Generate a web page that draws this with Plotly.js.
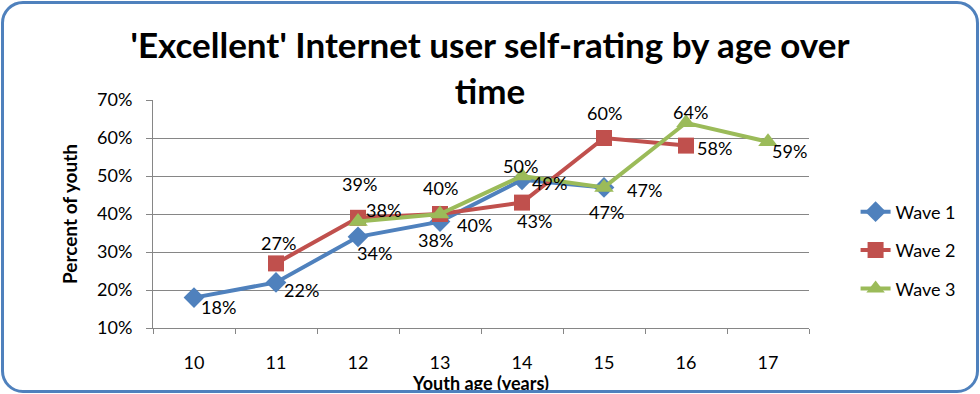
<!DOCTYPE html>
<html>
<head>
<meta charset="utf-8">
<script src="https://cdn.plot.ly/plotly-3.0.1.min.js"></script>
<style>
html,body{margin:0;padding:0;background:#fff;}
#wrap{position:relative;width:980px;height:394px;overflow:hidden;}
#chart{position:absolute;left:0;top:0;width:980px;height:394px;}
#frame{position:absolute;left:1px;top:1px;width:978px;height:392px;box-sizing:border-box;border:3px solid #4F81BD;border-radius:22px;pointer-events:none;}
</style>
</head>
<body>
<div id="wrap"><div id="chart"></div><div id="frame"></div></div>
<script>
const ages = ['10','11','12','13','14','15','16','17'];
const wave1Ages = ['10','11','12','13','14','15'];
const wave1 = [18, 22, 34, 38, 49, 47];
const wave2Ages = ['11','12','13','14','15','16'];
const wave2 = [27, 39, 40, 43, 60, 58];
const wave3Ages = ['12','13','14','15','16','17'];
const wave3 = [38, 40, 50, 47, 64, 59];
const yTicks = [10, 20, 30, 40, 50, 60, 70];
const seriesNames = ['Wave 1', 'Wave 2', 'Wave 3'];

// label placement offsets (pixels, label centre relative to point; style only)
const wave1LabelShift = [[24, 9], [25, 8], [16, 16], [-5, 18], [27, 3], [40, 3]];
const wave2LabelShift = [[2, -20], [1, -34], [0, -26], [12, 18], [0, -25], [28, 2]];
const wave3LabelShift = [[25, -12], [34, 11], [-2, -10], [2, 25], [4, -11], [21, 9]];

const FONT = 'Lato, "Open Sans", sans-serif';
const lblFont = {family: FONT, size: 18, color: '#000'};

const traces = [
  {x: wave1Ages, y: wave1, name: seriesNames[0], type: 'scatter', mode: 'lines+markers',
   line: {color: '#4F81BD', width: 4}, marker: {symbol: 'diamond', size: 16, color: '#4F81BD'},
   hoverinfo: 'skip', legendgroup: 'a', cliponaxis: false},
  {x: wave2Ages, y: wave2, name: seriesNames[1], type: 'scatter', mode: 'lines+markers',
   line: {color: '#C0504D', width: 4}, marker: {symbol: 'square', size: 16, color: '#C0504D'},
   hoverinfo: 'skip', legendgroup: 'b', cliponaxis: false},
  {x: wave3Ages, y: wave3, name: seriesNames[2], type: 'scatter', mode: 'lines+markers',
   line: {color: '#9BBB59', width: 4}, marker: {symbol: 'triangle-up', size: 17, color: '#9BBB59'},
   hoverinfo: 'skip', legendgroup: 'c', cliponaxis: false}
];

function labels(xs, ys, shifts) {
  return xs.map((x, i) => ({
    x: ages.indexOf(x), y: ys[i], xref: 'x', yref: 'y', text: ys[i] + '%', showarrow: false,
    xanchor: 'center', yanchor: 'middle', font: lblFont,
    xshift: shifts[i][0], yshift: -shifts[i][1]
  }));
}
const annotations = [].concat(
  labels(wave1Ages, wave1, wave1LabelShift),
  labels(wave2Ages, wave2, wave2LabelShift),
  labels(wave3Ages, wave3, wave3LabelShift)
);

const layout = {
  width: 980, height: 394,
  margin: {l: 153, r: 171, t: 100, b: 66},
  paper_bgcolor: 'rgba(0,0,0,0)', plot_bgcolor: 'rgba(0,0,0,0)',
  font: {family: FONT, color: '#000'},
  title: {text: "'Excellent' Internet user self-rating by age over<br>time",
          font: {family: FONT, size: 35, weight: 'bold', color: '#000'},
          x: 0.5, xanchor: 'center', y: 0.852, yanchor: 'top', yref: 'container'},
  xaxis: {type: 'category', categoryarray: ages, categoryorder: 'array',
          range: [-0.5, 7.5], showgrid: false, showline: true, linecolor: '#868686', linewidth: 1,
          ticks: 'outside', tickson: 'boundaries', ticklen: 5, tickcolor: '#868686',
          ticklabelstandoff: 18, tickfont: {family: FONT, size: 18},
          title: {text: 'Youth age (years)', font: {family: FONT, size: 18, weight: 'bold'}, standoff: 0},
          zeroline: false, fixedrange: true},
  yaxis: {range: [10, 70], tickvals: yTicks, ticktext: yTicks.map(v => v + '%'),
          showgrid: true, gridcolor: '#868686', gridwidth: 1,
          showline: true, linecolor: '#868686', linewidth: 1,
          ticks: 'outside', ticklen: 6, tickcolor: '#868686', ticklabelstandoff: 10,
          tickfont: {family: FONT, size: 18},
          title: {text: 'Percent of youth', font: {family: FONT, size: 19, weight: 'bold'}, standoff: 14},
          zeroline: false, fixedrange: true},
  legend: {x: 1.071, xanchor: 'left', y: 0.34, yanchor: 'middle', font: {family: FONT, size: 18},
           traceorder: 'grouped', tracegroupgap: 12, bgcolor: 'rgba(0,0,0,0)'},
  annotations: annotations,
  showlegend: true
};

Plotly.newPlot('chart', traces, layout, {displayModeBar: false, staticPlot: true});
</script>
</body>
</html>
